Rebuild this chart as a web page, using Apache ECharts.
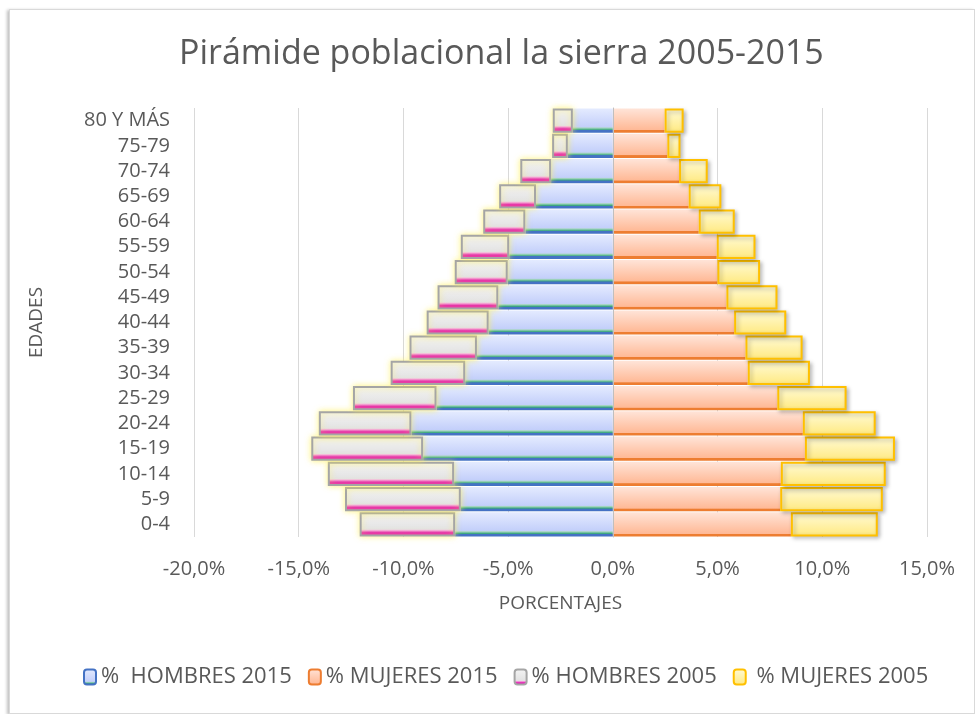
<!DOCTYPE html>
<html>
<head>
<meta charset="utf-8">
<script src="https://cdn.jsdelivr.net/npm/echarts@6/dist/echarts.min.js"></script>
<style>
  html, body { margin: 0; padding: 0; background: #fff; }
  #frame {
    position: absolute; left: 9px; top: 9px; width: 964px; height: 703px;
    border: 1px solid #d9d9d9; box-shadow: -2px 1px 3px rgba(0,0,0,0.25);
  }
  #piramide { position: absolute; left: 0; top: 0; width: 975px; height: 714px; }
</style>
</head>
<body>
<div id="frame"></div>
<div id="piramide"></div>
<script>
// grupos de edad, de abajo hacia arriba
const edades = ['0-4', '5-9', '10-14', '15-19', '20-24', '25-29', '30-34', '35-39', '40-44',
  '45-49', '50-54', '55-59', '60-64', '65-69', '70-74', '75-79', '80 Y MÁS']

// valores en % (hombres se dibujan a la izquierda)
const hombres2015 = [7.53, 7.26, 7.58, 9.06, 9.62, 8.42, 7.05, 6.49, 5.93, 5.47, 5.02, 4.95, 4.18, 3.67, 2.95, 2.15, 1.91]
const mujeres2015 = [8.50, 7.99, 8.02, 9.17, 9.07, 7.85, 6.44, 6.33, 5.79, 5.42, 4.99, 4.96, 4.10, 3.62, 3.16, 2.60, 2.47]
const hombres2005 = [4.56, 5.53, 6.03, 5.34, 4.42, 3.99, 3.56, 3.22, 2.96, 2.90, 2.53, 2.31, 2.01, 1.76, 1.47, 0.75, 0.96]
const mujeres2005 = [4.15, 4.90, 5.01, 4.30, 3.48, 3.31, 2.97, 2.73, 2.49, 2.44, 2.04, 1.85, 1.72, 1.56, 1.37, 0.63, 0.91]

const ejeMin = -20
const ejeMax = 15
const ejePaso = 5

const gris = '#595959'
const fuente = '"Open Sans", "Noto Sans", sans-serif'

function grad(stops) {
  return {
    type: 'linear', x: 0, y: 0, x2: 0, y2: 1,
    colorStops: stops.map(s => ({ offset: s[0], color: s[1] }))
  }
}

const myChart = echarts.init(document.getElementById('piramide'))
myChart.setOption({
  animation: false,
  textStyle: { fontFamily: fuente },
  title: {
    text: 'Pirámide poblacional la sierra 2005-2015',
    left: 174,
    top: 32,
    textStyle: { color: gris, fontSize: 34, fontWeight: 'normal', fontFamily: fuente }
  },
  legend: {
    data: [
      { name: '%  HOMBRES 2015', itemStyle: { borderColor: '#4472c4', borderWidth: 2 } },
      { name: '% MUJERES 2015', itemStyle: { borderColor: '#ed7d31', borderWidth: 2 } },
      { name: '% HOMBRES 2005', itemStyle: { borderColor: '#a5a5a5', borderWidth: 2 } },
      { name: ' % MUJERES 2005', itemStyle: { borderColor: '#ffc000', borderWidth: 2 } }
    ],
    left: 78,
    top: 661,
    itemWidth: 12,
    itemHeight: 15,
    itemGap: 16,
    textStyle: { color: gris, fontSize: 22, fontFamily: fuente }
  },
  grid: { left: 194, right: 48, top: 108, bottom: 177 },
  xAxis: {
    type: 'value',
    min: ejeMin,
    max: ejeMax,
    interval: ejePaso,
    name: 'PORCENTAJES',
    nameLocation: 'middle',
    nameGap: 57,
    nameTextStyle: { color: gris, fontSize: 19, fontFamily: fuente },
    axisLine: { show: false },
    axisTick: { show: false },
    axisLabel: {
      color: gris, fontSize: 20, margin: 22,
      formatter: v => v.toFixed(1).replace('.', ',') + '%'
    },
    splitLine: { show: true, lineStyle: { color: '#d9d9d9', width: 1 } }
  },
  yAxis: {
    type: 'category',
    data: edades,
    z: 3,
    name: 'EDADES',
    nameLocation: 'middle',
    nameGap: 148,
    nameRotate: 90,
    nameTextStyle: { color: gris, fontSize: 19, fontFamily: fuente },
    axisLine: { show: true, onZero: true, lineStyle: { color: '#bfbfbf', width: 1 } },
    axisTick: { show: false },
    axisLabel: { color: gris, fontSize: 20, margin: 24, interval: 0 }
  },
  series: [
    {
      name: '%  HOMBRES 2015',
      type: 'bar',
      stack: 'h',
      barCategoryGap: '4%',
      barGap: '-100%',
      data: hombres2015.map(v => -v),
      itemStyle: {
        color: grad([[0, '#e4ebff'], [0.76, '#c3cffa'], [0.8, '#a6d6c2'], [0.88, '#3ba77d'], [0.9, '#4472c4'], [1, '#4472c4']])
      }
    },
    {
      name: '% MUJERES 2015',
      type: 'bar',
      stack: 'm',
      barCategoryGap: '4%',
      barGap: '-100%',
      data: mujeres2015,
      itemStyle: {
        color: grad([[0, '#ffe4d8'], [0.88, '#ffb996'], [0.9, '#ed7d31'], [1, '#ed7d31']])
      }
    },
    {
      name: '% HOMBRES 2005',
      type: 'bar',
      stack: 'h',
      barCategoryGap: '4%',
      barGap: '-100%',
      data: hombres2005.map(v => -v),
      itemStyle: {
        color: grad([[0, '#f4f4f4'], [0.7, '#e3e3e3'], [0.74, '#f5b8e2'], [0.84, '#e41db4'], [1, '#e41db4']]),
        borderColor: '#a5a5a5',
        borderWidth: 2,
        shadowColor: 'rgba(255, 240, 80, 0.7)',
        shadowBlur: 6
      }
    },
    {
      name: ' % MUJERES 2005',
      type: 'bar',
      stack: 'm',
      barCategoryGap: '4%',
      barGap: '-100%',
      data: mujeres2005,
      itemStyle: {
        color: grad([[0, '#fffbd8'], [1, '#ffe97f']]),
        borderColor: '#ffc000',
        borderWidth: 2,
        shadowColor: 'rgba(0, 0, 0, 0.25)',
        shadowBlur: 4,
        shadowOffsetX: 2,
        shadowOffsetY: 2
      }
    }
  ]
})
</script>
</body>
</html>
